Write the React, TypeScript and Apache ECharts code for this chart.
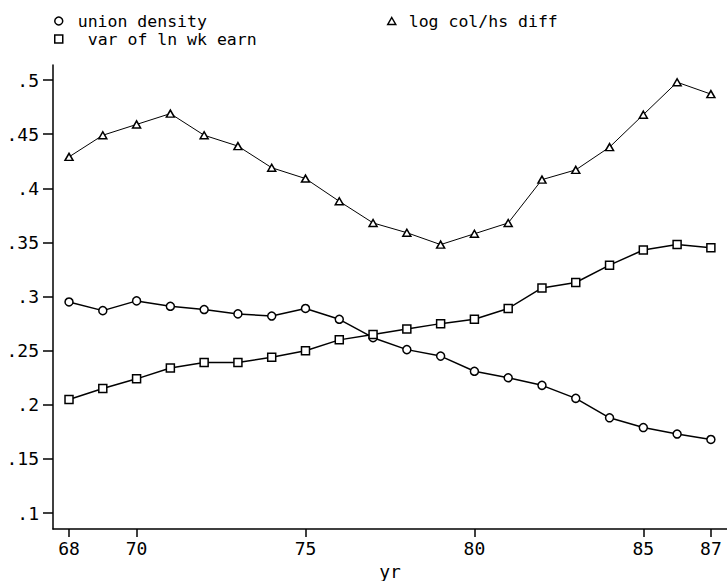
import React, { useEffect, useRef } from "react";
import * as echarts from "echarts";

// Data (values rotation-corrected from the scanned plot)
const years = [68, 69, 70, 71, 72, 73, 74, 75, 76, 77, 78, 79, 80, 81, 82, 83, 84, 85, 86, 87];
const unionDensity = [0.295, 0.287, 0.296, 0.291, 0.288, 0.284, 0.282, 0.289, 0.279, 0.262, 0.251, 0.245, 0.231, 0.225, 0.218, 0.206, 0.188, 0.179, 0.173, 0.168];
const varLnWkEarn = [0.205, 0.215, 0.224, 0.234, 0.239, 0.239, 0.244, 0.25, 0.26, 0.265, 0.27, 0.275, 0.279, 0.289, 0.308, 0.313, 0.329, 0.343, 0.348, 0.345];
const logColHsDiff = [0.429, 0.449, 0.459, 0.469, 0.449, 0.439, 0.419, 0.409, 0.388, 0.368, 0.359, 0.348, 0.358, 0.368, 0.408, 0.417, 0.438, 0.468, 0.498, 0.487];
const xTicks = [68, 70, 75, 80, 85, 87];
const yTicks = [0.1, 0.15, 0.2, 0.25, 0.3, 0.35, 0.4, 0.45, 0.5];

const FONT = "'DejaVu Sans Mono', monospace";

export default function App() {
  const ref = useRef<HTMLDivElement>(null);
  useEffect(() => {
    if (!ref.current) return;
    const chart = echarts.init(ref.current, null, { renderer: "svg" });
    const markerStyle = { color: "#fff", borderColor: "#000", borderWidth: 1.5 };
    const pairs = (vals: number[]) => years.map((y, i) => [y, vals[i]]);
    chart.setOption({
      animation: false,
      backgroundColor: "#fff",
      legend: [
        {
          orient: "vertical",
          left: 54,
          top: 12,
          padding: 0,
          itemGap: 0,
          itemWidth: 8,
          itemHeight: 8,
          selectedMode: false,
          textStyle: { fontFamily: FONT, fontSize: 16.5, color: "#000", lineHeight: 18 },
          data: [
            { name: "union density", icon: "circle", itemStyle: markerStyle, textStyle: { padding: [0, 0, 0, 10] } },
            { name: "var of ln wk earn", icon: "rect", itemStyle: markerStyle, textStyle: { padding: [0, 0, 0, 20] } },
          ],
        },
        {
          orient: "horizontal",
          left: 387,
          top: 12,
          padding: 0,
          itemWidth: 8,
          itemHeight: 7,
          selectedMode: false,
          textStyle: { fontFamily: FONT, fontSize: 16.5, color: "#000", lineHeight: 18 },
          data: [
            { name: "log col/hs diff", icon: "triangle", itemStyle: markerStyle, textStyle: { padding: [0, 0, 0, 8] } },
          ],
        },
      ],
      grid: { left: 53, right: 0, top: 65, bottom: 52, containLabel: false, outerBoundsMode: "none" },
      xAxis: {
        type: "value",
        min: 67.526,
        max: 87.477,
        name: "yr",
        nameLocation: "middle",
        nameGap: 33,
        nameTextStyle: { fontFamily: FONT, fontSize: 18, color: "#000" },
        axisLine: { onZero: false, lineStyle: { color: "#000", width: 1.5 } },
        axisTick: { customValues: xTicks, length: 8, lineStyle: { color: "#000", width: 1.5 } },
        axisLabel: { customValues: xTicks, margin: 10, fontFamily: FONT, fontSize: 18, color: "#000" },
        splitLine: { show: false },
      },
      yAxis: {
        type: "value",
        min: 0.0853,
        max: 0.5139,
        axisLine: { onZero: false, lineStyle: { color: "#000", width: 1.5 } },
        axisTick: { customValues: yTicks, length: 10, lineStyle: { color: "#000", width: 1.5 } },
        axisLabel: {
          customValues: yTicks,
          margin: 14,
          fontFamily: FONT,
          fontSize: 18,
          color: "#000",
          formatter: (v: number) => String(Math.round(v * 100) / 100).replace(/^0\./, "."),
        },
        splitLine: { show: false },
      },
      series: [
        {
          name: "union density",
          type: "line",
          data: pairs(unionDensity),
          symbol: "circle",
          symbolSize: 8,
          showAllSymbol: true,
          lineStyle: { color: "#000", width: 1.5 },
          itemStyle: markerStyle,
          emphasis: { disabled: true },
        },
        {
          name: "var of ln wk earn",
          type: "line",
          data: pairs(varLnWkEarn),
          symbol: "rect",
          symbolSize: 8,
          showAllSymbol: true,
          lineStyle: { color: "#000", width: 1.5 },
          itemStyle: markerStyle,
          emphasis: { disabled: true },
        },
        {
          name: "log col/hs diff",
          type: "line",
          data: pairs(logColHsDiff),
          symbol: "triangle",
          symbolSize: [8, 7],
          showAllSymbol: true,
          lineStyle: { color: "#000", width: 1 },
          itemStyle: markerStyle,
          emphasis: { disabled: true },
        },
      ],
    });
    return () => chart.dispose();
  }, []);
  return (
    <div
      ref={ref}
      style={{ position: "fixed", left: 0, top: 0, width: 727, height: 581, background: "#fff" }}
    />
  );
}
